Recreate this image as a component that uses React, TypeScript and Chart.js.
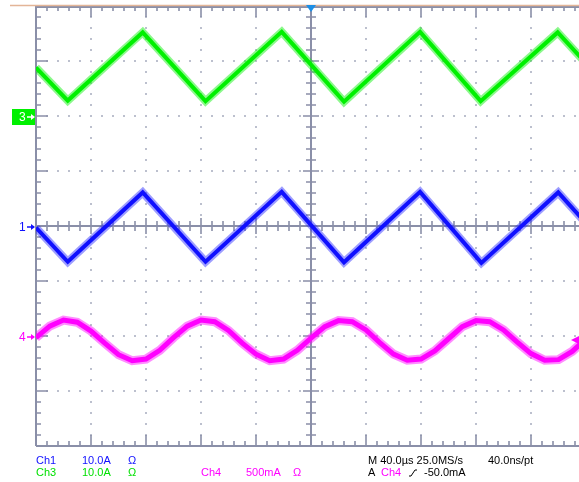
import React, { useEffect, useRef } from 'react';
import { Chart, registerables } from 'chart.js';

Chart.register(...registerables);

// Time axis in microseconds (40 µs/div, 10 divisions), vertical in divisions (8 divisions)
const timeCh3 = [-200, -176.9, -122.4, -76.7, -21.3, 24.0, 79.3, 123.4, 179.4, 200];
const ch3Values = [2.88, 2.28, 3.52, 2.27, 3.53, 2.26, 3.53, 2.27, 3.52, 2.96];

const timeCh1 = [-200, -176.9, -122.4, -76.7, -21.3, 24.0, 79.3, 123.9, 179.8, 200];
const ch1Values = [-0.03, -0.65, 0.61, -0.65, 0.62, -0.66, 0.62, -0.67, 0.61, 0.05];

const timeCh4 = [
  -200, -190, -180, -170, -160, -150, -140, -130, -120, -110, -100, -90, -80, -70,
  -60, -50, -40, -30, -20, -10, 0, 10, 20, 30, 40, 50, 60, 70, 80, 90, 100, 110,
  120, 130, 140, 150, 160, 170, 180, 190, 200,
];
const ch4Values = [
  -2.03, -1.82, -1.71, -1.75, -1.91, -2.13, -2.34, -2.45, -2.42, -2.26, -2.03, -1.82,
  -1.71, -1.74, -1.90, -2.13, -2.33, -2.45, -2.42, -2.26, -2.04, -1.83, -1.72, -1.74,
  -1.89, -2.12, -2.33, -2.44, -2.42, -2.27, -2.05, -1.83, -1.72, -1.74, -1.89, -2.11,
  -2.32, -2.44, -2.43, -2.28, -2.05,
];

const ch1Readout = ['Ch1', '10.0A', 'Ω'];
const ch3Readout = ['Ch3', '10.0A', 'Ω'];
const ch4Readout = ['Ch4', '500mA', 'Ω'];
const timebaseText = ['M 40.0µs 25.0MS/s', '40.0ns/pt'];
const triggerText = ['A', 'Ch4', '-50.0mA'];
const channelMarkers = ['3', '1', '4'];
const channelMarkerLevels = [2, 0, -2]; // divisions

const BLUE = '#1010ff';
const GREEN = '#00f000';
const MAGENTA = '#ff00ff';
const FRAME = '#8a8fa8';

const toPoints = (xs: number[], ys: number[]) => xs.map((x, i) => ({ x, y: ys[i] }));

const scopePlugin = {
  id: 'scope',
  beforeDatasetsDraw(chart: any) {
    const { ctx, chartArea } = chart;
    const { left, right, top, bottom } = chartArea;
    const dx = (right - left) / 10;
    const dy = (bottom - top) / 8;
    const mx = dx / 5;
    const my = dy / 5;
    const cx = Math.round(left + 5 * dx);
    const cy = Math.round(top + 4 * dy);
    ctx.save();
    // dotted graticule
    ctx.fillStyle = '#bcc0ce';
    for (let i = 1; i < 10; i++) {
      if (i === 5) continue;
      const x = Math.round(left + i * dx);
      for (let k = 1; k < 40; k++) {
        if (k % 5 === 0) continue;
        ctx.fillRect(x - 1, Math.round(top + k * my) - 1, 2, 2);
      }
    }
    for (let j = 1; j < 8; j++) {
      if (j === 4) continue;
      const y = Math.round(top + j * dy);
      for (let k = 1; k < 50; k++) {
        ctx.fillRect(Math.round(left + k * mx) - 1, y - 1, 2, 2);
      }
    }
    ctx.strokeStyle = FRAME;
    ctx.lineWidth = 2;
    // frame
    ctx.beginPath();
    ctx.moveTo(left, top);
    ctx.lineTo(left, bottom);
    ctx.moveTo(left, bottom);
    ctx.lineTo(right + 20, bottom);
    ctx.moveTo(left, top + 1);
    ctx.lineTo(right + 20, top + 1);
    // center axes
    ctx.moveTo(cx, top);
    ctx.lineTo(cx, bottom);
    ctx.moveTo(left, cy);
    ctx.lineTo(right + 20, cy);
    ctx.stroke();
    // ticks
    ctx.lineWidth = 1.6;
    ctx.beginPath();
    for (let k = 1; k < 50; k++) {
      const x = Math.round(left + k * mx);
      const major = k % 5 === 0;
      const lt = major ? 11 : 5;
      ctx.moveTo(x, top);
      ctx.lineTo(x, top + lt);
      ctx.moveTo(x, bottom);
      ctx.lineTo(x, bottom - lt);
      const lc = major ? 8 : 5;
      ctx.moveTo(x, cy - lc);
      ctx.lineTo(x, cy + lc);
    }
    for (let k = 1; k < 40; k++) {
      const y = Math.round(top + k * my);
      const major = k % 5 === 0;
      const lt = major ? 12 : 5;
      ctx.moveTo(left, y);
      ctx.lineTo(left + lt, y);
      const lc = major ? 8 : 5;
      ctx.moveTo(cx - lc, y);
      ctx.lineTo(cx + lc, y);
    }
    ctx.stroke();
    // tan top line
    ctx.strokeStyle = '#e3b597';
    ctx.lineWidth = 1.5;
    ctx.beginPath();
    ctx.moveTo(10, top - 0.5);
    ctx.lineTo(right + 20, top - 0.5);
    ctx.stroke();
    ctx.restore();
  },
  afterDraw(chart: any) {
    const { ctx, chartArea } = chart;
    const { left, top } = chartArea;
    const ys = chart.scales.y;
    const xs = chart.scales.x;
    ctx.save();
    // trigger position marker
    const tx = Math.round(xs.getPixelForValue(0));
    ctx.fillStyle = '#1d8fe6';
    ctx.beginPath();
    ctx.moveTo(tx - 5, top - 1);
    ctx.lineTo(tx + 5, top - 1);
    ctx.lineTo(tx, top + 6);
    ctx.closePath();
    ctx.fill();

    // channel ground markers
    const markerColors = [GREEN, BLUE, MAGENTA];
    ctx.font = '12px "Liberation Sans", Arial, sans-serif';
    ctx.textBaseline = 'middle';
    channelMarkers.forEach((label, i) => {
      const y = Math.round(ys.getPixelForValue(channelMarkerLevels[i]));
      const col = markerColors[i];
      let fg = col;
      if (i === 0) {
        ctx.fillStyle = col;
        ctx.fillRect(12, y - 7, 23, 16);
        fg = '#ffffff';
      }
      ctx.fillStyle = fg;
      ctx.textAlign = 'left';
      ctx.fillText(label, 19, y + 2);
      ctx.strokeStyle = fg;
      ctx.lineWidth = 1.5;
      ctx.beginPath();
      ctx.moveTo(27, y + 1);
      ctx.lineTo(left - 2, y + 1);
      ctx.stroke();
      ctx.beginPath();
      ctx.moveTo(left - 1, y + 1);
      ctx.lineTo(left - 5, y - 2);
      ctx.lineTo(left - 5, y + 4);
      ctx.closePath();
      ctx.fill();
    });

    // trigger level marker on right edge
    const ty = Math.round(ys.getPixelForValue(-2.08));
    ctx.fillStyle = MAGENTA;
    ctx.beginPath();
    ctx.moveTo(571, ty);
    ctx.lineTo(579, ty - 4);
    ctx.lineTo(579, ty + 4);
    ctx.closePath();
    ctx.fill();

    // readouts
    ctx.font = '11px "Liberation Sans", Arial, sans-serif';
    ctx.textAlign = 'left';
    ctx.textBaseline = 'alphabetic';
    const r1 = 464;
    const r2 = 476;
    const cols = [36, 82, 128];
    ctx.fillStyle = BLUE;
    ch1Readout.forEach((t, i) => ctx.fillText(t, cols[i], r1));
    ctx.fillStyle = '#00e000';
    ch3Readout.forEach((t, i) => ctx.fillText(t, cols[i], r2));
    ctx.fillStyle = MAGENTA;
    const cols4 = [201, 246, 293];
    ch4Readout.forEach((t, i) => ctx.fillText(t, cols4[i], r2));
    ctx.fillStyle = '#000000';
    ctx.fillText(timebaseText[0], 368, r1);
    ctx.fillText(timebaseText[1], 488, r1);
    ctx.fillText(triggerText[0], 368, r2);
    ctx.fillStyle = MAGENTA;
    ctx.fillText(triggerText[1], 381, r2);
    ctx.fillStyle = '#000000';
    ctx.fillText(triggerText[2], 424, r2);
    // rising edge symbol
    ctx.strokeStyle = '#000000';
    ctx.lineWidth = 1;
    ctx.beginPath();
    ctx.moveTo(409, r2);
    ctx.lineTo(411, r2);
    ctx.lineTo(415, r2 - 6);
    ctx.lineTo(417, r2 - 6);
    ctx.stroke();
    ctx.restore();
  },
};

export default function App() {
  const canvasRef = useRef<HTMLCanvasElement | null>(null);

  useEffect(() => {
    const canvas = canvasRef.current;
    if (!canvas) return;
    const mk = (data: any[], color: string, width: number, order: number) => ({
      data,
      borderColor: color,
      borderWidth: width,
      pointRadius: 0,
      tension: 0,
      fill: false,
      order,
      borderJoinStyle: 'miter' as const,
    });
    const ch3 = toPoints(timeCh3, ch3Values);
    const ch1 = toPoints(timeCh1, ch1Values);
    const ch4 = toPoints(timeCh4, ch4Values);
    const chart = new Chart(canvas, {
      type: 'line',
      data: {
        datasets: [
          mk(ch3, GREEN, 4, 0),
          mk(ch1, BLUE, 4, 0),
          mk(ch4, MAGENTA, 5, 0),
          mk(ch3, 'rgba(0,240,0,0.45)', 8, 5),
          mk(ch1, 'rgba(40,40,255,0.45)', 8, 5),
          mk(ch4, 'rgba(255,0,255,0.45)', 9, 5),
        ],
      },
      options: {
        animation: false,
        responsive: false,
        maintainAspectRatio: false,
        devicePixelRatio: 1,
        parsing: false as any,
        layout: { padding: { left: 36, right: 14, top: 6, bottom: 36 } },
        scales: {
          x: { type: 'linear', min: -200, max: 200, display: false },
          y: { type: 'linear', min: -4, max: 4, display: false },
        },
        plugins: {
          legend: { display: false },
          tooltip: { enabled: false },
        },
        events: [],
      },
      plugins: [scopePlugin],
    });
    return () => chart.destroy();
  }, []);

  return (
    <div
      style={{
        position: 'fixed',
        left: 0,
        top: 0,
        width: 579,
        height: 482,
        overflow: 'hidden',
        background: '#ffffff',
      }}
    >
      <canvas ref={canvasRef} width={600} height={482} style={{ display: 'block', width: 600, height: 482 }} />
    </div>
  );
}
